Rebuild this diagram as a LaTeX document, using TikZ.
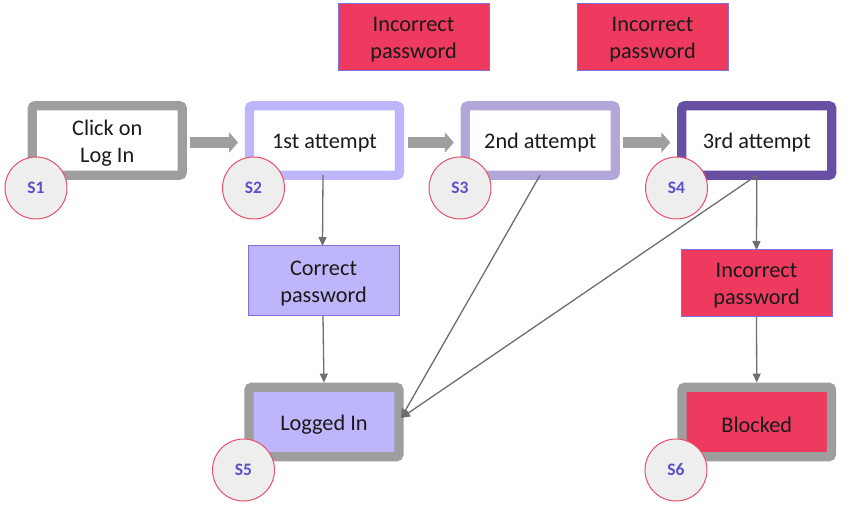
\documentclass[tikz,border=0pt]{standalone}
\usepackage{fontspec}
\setmainfont{Carlito}
\usetikzlibrary{arrows.meta}
\definecolor{boxgray}{HTML}{9E9E9E}
\definecolor{lav}{HTML}{BDB6FA}
\definecolor{lavmid}{HTML}{B3A6D8}
\definecolor{purp}{HTML}{6750A4}
\definecolor{redfill}{HTML}{EE3A5E}
\definecolor{pwborder}{HTML}{7F72E0}
\definecolor{tagring}{HTML}{E8506C}
\definecolor{tagfill}{HTML}{EEEEEE}
\definecolor{tagtext}{HTML}{5B4FC8}
\definecolor{linegray}{HTML}{6E6E6E}
\definecolor{txt}{HTML}{1A1A1A}
\newcommand\dn[1]{\raisebox{-2.5pt}[\height][\depth]{#1}}
\begin{document}
\begin{tikzpicture}[x=1pt,y=-1pt,
  statebox/.style={draw, rounded corners=3pt, minimum width=150pt, minimum height=69.5pt,
    inner sep=0pt, outer sep=0pt, line width=9.3pt, fill=white, align=center, text=txt,
    font=\fontsize{22.3}{27.5}\selectfont},
  pwbox/.style={draw=pwborder, line width=1pt, minimum width=151pt, minimum height=67pt,
    inner sep=0pt, outer sep=0pt, align=center, text=txt,
    font=\fontsize{22.3}{27}\selectfont},
  tag/.style={circle, draw=tagring, line width=1pt, fill=tagfill, minimum size=62pt,
    inner sep=0pt, text=tagtext, font=\fontsize{17.5}{20}\selectfont\bfseries},
  blockarrow/.style={draw=boxgray, line width=11pt, -{Triangle[length=9pt,width=20pt]},
    shorten <=8pt, shorten >=11.5pt},
  connector/.style={draw=linegray, line width=1.3pt, -{Triangle[length=9pt,width=8pt]}}
]
\useasboundingbox[fill=white] (0,0) rectangle (852,505);

% top states
\node[statebox, draw=boxgray] (s1) at (107.25,140.5) {\dn{Click on}\\\dn{Log In}};
\node[statebox, draw=lav] (s2) at (324.5,140.5) {\dn{1st attempt}};
\node[statebox, draw=lavmid] (s3) at (540.3,140.5) {\dn{2nd attempt}};
\node[statebox, draw=purp] (s4) at (756.8,140.5) {\dn{3rd attempt}};

% password boxes
\node[pwbox, fill=redfill] (ip1) at (413.5,37) {\dn{Incorrect}\\\dn{password}};
\node[pwbox, fill=redfill] (ip2) at (652.5,37) {\dn{Incorrect}\\\dn{password}};
\node[pwbox, fill=lav, minimum height=70pt] (cp) at (323.5,281) {\dn{Correct}\\\dn{password}};
\node[pwbox, fill=redfill] (ip3) at (756.5,283.5) {\dn{Incorrect}\\\dn{password}};

% final states
\node[statebox, draw=boxgray, fill=lav] (li) at (324,422) {\dn{Logged In}};
\node[statebox, draw=boxgray, fill=redfill, minimum width=149.5pt] (bl) at (756.75,422) {\dn{Blocked}};

% block arrows
\draw[blockarrow] ([yshift=-2pt]s1.east) -- ([yshift=-2pt]s2.west);
\draw[blockarrow] ([yshift=-2pt]s2.east) -- ([yshift=-2pt]s3.west);
\draw[blockarrow] ([yshift=-2pt]s3.east) -- ([yshift=-2pt]s4.west);

% thin connectors
\coordinate (lin) at ([xshift=2pt,yshift=4pt]li.east);
\draw[connector] ([xshift=-1.5pt]s2.south) -- ([xshift=-1pt]cp.north);
\draw[connector, shorten >=4.7pt] ([xshift=-0.5pt]cp.south) -- (li.north);
\draw[connector] ([xshift=-0.3pt]s3.south) -- (lin);
\draw[connector] (s4.south) -- (lin);
\draw[connector] (s4.south) -- (ip3.north);
\draw[connector, shorten >=4.7pt] (ip3.south) -- (bl.north);

% tags
\node[tag] (t1) at (36,188) {S1};
\node[tag] (t2) at (253.5,188) {S2};
\node[tag] (t3) at (460,188) {S3};
\node[tag] (t4) at (676.5,188) {S4};
\node[tag] (t5) at (243.5,470) {S5};
\node[tag] (t6) at (676,470) {S6};
\end{tikzpicture}
\end{document}
